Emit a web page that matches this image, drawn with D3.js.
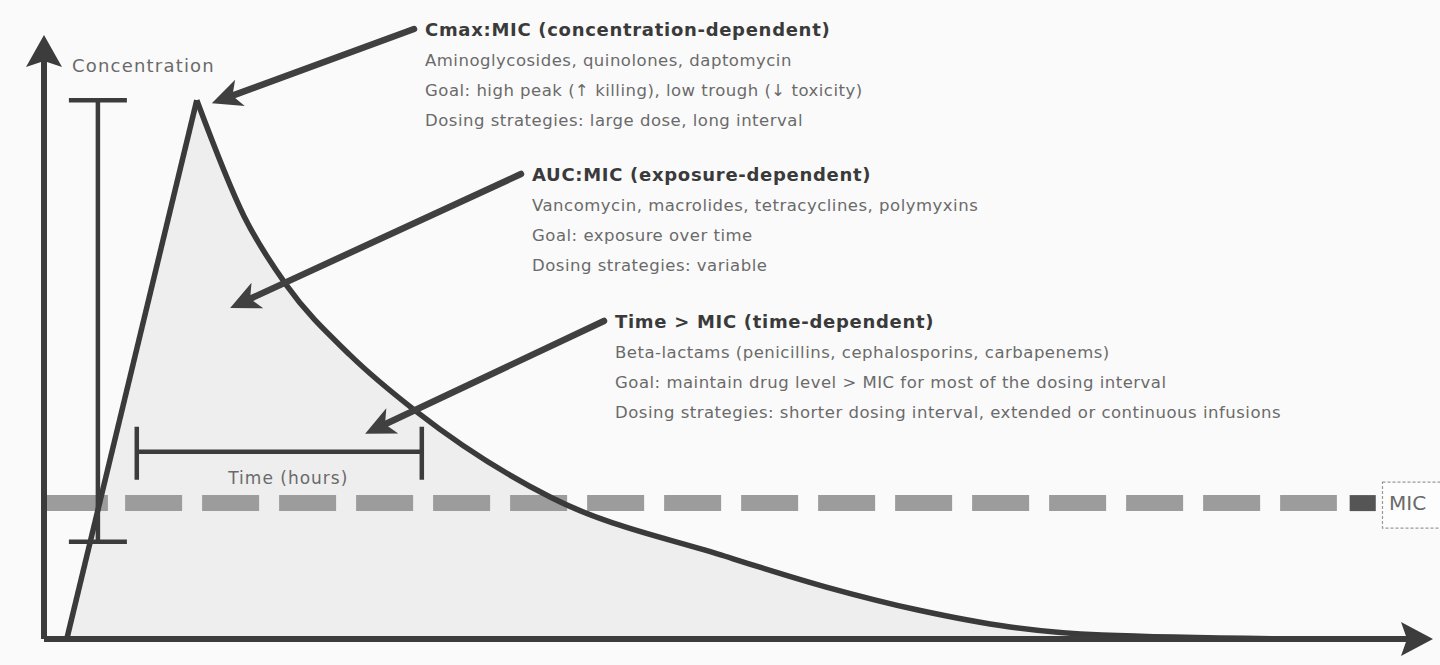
<!DOCTYPE html>
<html lang="en">
<head>
    <meta charset="UTF-8">
    <title>PK/PD indices: Cmax:MIC, AUC:MIC, Time > MIC</title>
    <style>
        body { margin: 0; background: #fafafa; }
        svg { display: block; }
        .axis-line { stroke: #3c3c3c; stroke-width: 6; fill: none; }
        .curve { stroke: #3a3a3a; stroke-width: 5.5; fill: none; stroke-linejoin: round; }
        .bracket { stroke: #3c3c3c; stroke-width: 4.5; fill: none; }
        .pointer { stroke: #404040; stroke-width: 6.5; stroke-linecap: round; }
        .label { font-family: "DejaVu Sans", sans-serif; fill: #6a6a6a; }
        .title { font-family: "DejaVu Sans", sans-serif; font-weight: bold; fill: #3a3a3a; }
    </style>
</head>
<body>
<svg id="chart" width="1440" height="665"></svg>
<script src="https://d3js.org/d3.v7.min.js"></script>
<script>
// data (time in hours-ish units, concentration in % of axis height)
const timeDomain = [0, 25];
const concDomain = [0, 100];
const riseTime = [0.41, 2.75];
const riseConc = [0, 89.2];
const decayTime = [2.75, 3.6, 4.37, 5.51, 6.71, 9.11, 12.26, 14.08, 15.73, 17.39, 19.04, 22.6];
const decayConc = [89.2, 70.0, 58.5, 47.0, 37.6, 23.5, 13.7, 8.6, 4.8, 2.0, 0.66, 0];
const micLevel = 22.5;
const peakBracket = [0.97, 16.1, 89.2];   // time, trough, peak
const timeBracket = [1.67, 6.8, 31];      // start, end, level

const blockTitles = [
    "Cmax:MIC (concentration-dependent)",
    "AUC:MIC (exposure-dependent)",
    "Time > MIC (time-dependent)"
];
const blockLines = [
    ["Aminoglycosides, quinolones, daptomycin",
     "Goal: high peak (\u2191 killing), low trough (\u2193 toxicity)",
     "Dosing strategies: large dose, long interval"],
    ["Vancomycin, macrolides, tetracyclines, polymyxins",
     "Goal: exposure over time",
     "Dosing strategies: variable"],
    ["Beta-lactams (penicillins, cephalosporins, carbapenems)",
     "Goal: maintain drug level > MIC for most of the dosing interval",
     "Dosing strategies: shorter dosing interval, extended or continuous infusions"]
];
// where each pointer lands, in time / concentration
const pointerTargets = [[3.02, 88.7], [3.35, 54.8], [5.78, 34.0]];

// layout
const blockPos = [[425, 30], [532, 175], [615, 322]];
const lineGap = 30;

const svg = d3.select("#chart");
const x = d3.scaleLinear().domain(timeDomain).range([44, 1433]);
const y = d3.scaleLinear().domain(concDomain).range([639, 35]);

const risePts = riseTime.map((t, i) => [t, riseConc[i]]);
const decayPts = decayTime.map((t, i) => [t, decayConc[i]]);
const riseLine = d3.line().x(d => x(d[0])).y(d => y(d[1]));
const decayLine = d3.line().x(d => x(d[0])).y(d => y(d[1])).curve(d3.curveMonotoneX);

// area under the curve
svg.append("path")
    .attr("d", riseLine(risePts) + decayLine(decayPts).replace(/^M/, "L") + "Z")
    .attr("fill", "#eeeeee");

// MIC reference line
const micY = y(micLevel);
svg.append("line")
    .attr("x1", x(0)).attr("x2", x(1.15)).attr("y1", micY).attr("y2", micY)
    .attr("stroke", "#9c9c9c").attr("stroke-width", 16);
svg.append("line")
    .attr("x1", x(1.46)).attr("x2", x(23.27)).attr("y1", micY).attr("y2", micY)
    .attr("stroke", "#9c9c9c").attr("stroke-width", 16)
    .attr("stroke-dasharray", "57 20");
svg.append("rect")
    .attr("x", x(23.5)).attr("width", x(23.97) - x(23.5))
    .attr("y", micY - 8).attr("height", 16)
    .attr("fill", "#555");
svg.append("rect")
    .attr("x", 1382.5).attr("y", micY - 21).attr("width", 70).attr("height", 46)
    .attr("fill", "#fdfdfd").attr("stroke", "#999").attr("stroke-width", 1.2)
    .attr("stroke-dasharray", "3 2");
svg.append("text")
    .attr("class", "label")
    .attr("x", 1389).attr("y", micY + 7)
    .attr("font-size", 20).attr("fill", "#555")
    .text("MIC");

// concentration curve
svg.append("path").attr("class", "curve").attr("d", riseLine(risePts));
svg.append("path").attr("class", "curve").attr("d", decayLine(decayPts));

// peak-to-trough bracket
const bx = x(peakBracket[0]);
svg.append("path").attr("class", "bracket")
    .attr("d", `M${bx},${y(peakBracket[2])}V${y(peakBracket[1])}` +
        `M${bx - 29},${y(peakBracket[2])}H${bx + 29}` +
        `M${bx - 29},${y(peakBracket[1])}H${bx + 29}`);

// time bracket
const ty = y(timeBracket[2]);
svg.append("path").attr("class", "bracket")
    .attr("d", `M${x(timeBracket[0])},${ty}H${x(timeBracket[1])}` +
        `M${x(timeBracket[0])},${ty - 25}V${ty + 28}` +
        `M${x(timeBracket[1])},${ty - 25}V${ty + 28}`);
svg.append("text")
    .attr("class", "label")
    .attr("x", (x(timeBracket[0]) + x(timeBracket[1])) / 2 + 9)
    .attr("y", ty + 32)
    .attr("text-anchor", "middle")
    .attr("font-size", 17)
    .attr("letter-spacing", 1)
    .text("Time (hours)");

// axes with arrow heads
const yTop = y(concDomain[1]), xEnd = x(timeDomain[1]);
svg.append("path").attr("class", "axis-line")
    .attr("d", `M${x(0)},${y(0)}V${yTop + 20}M${x(0)},${y(0)}H${xEnd - 20}`);
svg.append("path").attr("fill", "#3c3c3c")
    .attr("d", `M${x(0)},${yTop}L${x(0) + 18},${yTop + 32}L${x(0)},${yTop + 26}L${x(0) - 18},${yTop + 32}Z`);
svg.append("path").attr("fill", "#3c3c3c")
    .attr("d", `M${xEnd},${y(0)}L${xEnd - 32},${y(0) - 17}L${xEnd - 26},${y(0)}L${xEnd - 32},${y(0) + 17}Z`);
svg.append("text")
    .attr("class", "label")
    .attr("x", 72).attr("y", 72)
    .attr("font-size", 18)
    .attr("letter-spacing", 1.2)
    .text("Concentration");

// text blocks
blockTitles.forEach((t, i) => {
    const [bxp, byp] = blockPos[i];
    svg.append("text").attr("class", "title")
        .attr("x", bxp).attr("y", byp + 6)
        .attr("font-size", 18)
        .attr("letter-spacing", 0.7)
        .text(t);
    blockLines[i].forEach((line, j) => {
        svg.append("text").attr("class", "label")
            .attr("x", bxp).attr("y", byp + 6 + (j + 1) * lineGap)
            .attr("font-size", 16.5)
            .attr("letter-spacing", 0.5)
            .text(line);
    });
});

// pointers from each block to the chart
pointerTargets.forEach((p, i) => {
    const [sx, sy] = [blockPos[i][0] - 11, blockPos[i][1] - 1];
    const tx = x(p[0]), tyy = y(p[1]);
    const ang = Math.atan2(tyy - sy, tx - sx);
    const ux = Math.cos(ang), uy = Math.sin(ang);
    const len = 30, half = 14, notch = 22;
    svg.append("line").attr("class", "pointer")
        .attr("x1", sx).attr("y1", sy)
        .attr("x2", tx - ux * notch).attr("y2", tyy - uy * notch);
    svg.append("path").attr("fill", "#404040")
        .attr("d", `M${tx},${tyy}` +
            `L${tx - ux * len - uy * half},${tyy - uy * len + ux * half}` +
            `L${tx - ux * notch},${tyy - uy * notch}` +
            `L${tx - ux * len + uy * half},${tyy - uy * len - ux * half}Z`);
});
</script>
</body>
</html>
